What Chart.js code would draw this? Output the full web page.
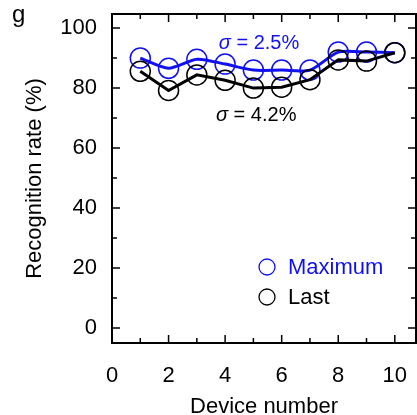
<!DOCTYPE html>
<html>
<head>
<meta charset="utf-8">
<script src="https://cdn.jsdelivr.net/npm/chart.js@4"></script>
<style>
  html, body { margin: 0; padding: 0; background: #fff; overflow: hidden; }
  canvas { display: block; }
</style>
</head>
<body>
<canvas id="grafica" width="417" height="415"></canvas>
<script>
// devices and recognition rates (%)
const dispositivos = [1, 2, 3, 4, 5, 6, 7, 8, 9, 10];
const maximo = [90, 86.6, 89.6, 88, 86, 86, 86, 92, 92, 91.8];
const ultimo = [85.6, 79.2, 84.4, 82.6, 80, 80.3, 82.8, 89.4, 89, 91.8];
const ticksX = [0, 2, 4, 6, 8, 10];
const ticksY = [0, 20, 40, 60, 80, 100];
const sigmaMax = '2.5%';
const sigmaUlt = '4.2%';

const AZUL = '#1010f0';
const NEGRO = '#000000';
const FUENTE = '"Liberation Sans", Arial, sans-serif';

function puntos(ys) {
  return dispositivos.map((x, i) => ({ x: x, y: ys[i] }));
}

// "σ = valor" con la sigma en cursiva, centrado en (cx, cy)
function sigma(ctx, texto, cx, cy, color) {
  ctx.fillStyle = color;
  ctx.font = 'italic 20px ' + FUENTE;
  const w1 = ctx.measureText('σ').width;
  ctx.font = '20px ' + FUENTE;
  const resto = ' = ' + texto;
  const w2 = ctx.measureText(resto).width;
  let x = cx - (w1 + w2) / 2;
  ctx.textAlign = 'left';
  ctx.font = 'italic 20px ' + FUENTE;
  ctx.fillText('σ', x, cy);
  ctx.font = '20px ' + FUENTE;
  ctx.fillText(resto, x + w1, cy);
}

// frame with inward ticks, x labels, sigma notes and legend
const marco = {
  id: 'marco',
  afterDatasetsDraw(chart) {
    const { ctx, chartArea: a, scales } = chart;
    const sx = scales.x, sy = scales.y;
    ctx.save();
    ctx.strokeStyle = '#000';
    ctx.lineWidth = 2;
    ctx.strokeRect(a.left, a.top, a.right - a.left, a.bottom - a.top);

    ctx.lineWidth = 1.5;
    ctx.beginPath();
    for (let v = 0; v <= 10; v++) {
      const px = sx.getPixelForValue(v);
      const len = v % 2 === 0 ? 8 : 5;
      ctx.moveTo(px, a.bottom); ctx.lineTo(px, a.bottom - len);
      ctx.moveTo(px, a.top); ctx.lineTo(px, a.top + len);
    }
    for (let v = 0; v <= 100; v += 10) {
      const py = sy.getPixelForValue(v);
      const len = v % 20 === 0 ? 8 : 5;
      ctx.moveTo(a.left, py); ctx.lineTo(a.left + len, py);
      ctx.moveTo(a.right, py); ctx.lineTo(a.right - len, py);
    }
    ctx.stroke();

    // x tick labels (drawn here so the last one may hang past the frame)
    ctx.fillStyle = '#000';
    ctx.font = '22px ' + FUENTE;
    ctx.textAlign = 'center';
    ctx.textBaseline = 'middle';
    ticksX.forEach(v => ctx.fillText(String(v), sx.getPixelForValue(v), a.bottom + 33));

    // sigma annotations
    sigma(ctx, sigmaMax, sx.getPixelForValue(5.2), sy.getPixelForValue(95), AZUL);
    sigma(ctx, sigmaUlt, sx.getPixelForValue(5.1), sy.getPixelForValue(71), NEGRO);

    // legend
    const items = chart.data.datasets;
    const lx = 267, ly0 = 267, paso = 30;
    ctx.textAlign = 'left';
    items.forEach((d, i) => {
      const ly = ly0 + i * paso;
      ctx.beginPath();
      ctx.arc(lx, ly, 8, 0, Math.PI * 2);
      ctx.strokeStyle = d.pointBorderColor;
      ctx.lineWidth = 1.3;
      ctx.stroke();
      ctx.fillStyle = d.pointBorderColor;
      ctx.font = '22px ' + FUENTE;
      ctx.fillText(d.label, lx + 21, ly + 1);
    });

    // panel letter
    ctx.fillStyle = '#000';
    ctx.font = '24px ' + FUENTE;
    ctx.textAlign = 'left';
    ctx.textBaseline = 'alphabetic';
    ctx.fillText('g', 12, 22);
    ctx.restore();
  }
};

const ctx = document.getElementById('grafica').getContext('2d');
new Chart(ctx, {
  type: 'line',
  data: {
    datasets: [
      {
        label: 'Maximum',
        data: puntos(maximo),
        borderColor: AZUL,
        borderWidth: 3,
        pointRadius: 10,
        pointBorderWidth: 1.5,
        pointBorderColor: AZUL,
        pointBackgroundColor: 'rgba(0,0,0,0)',
        tension: 0.25,
        order: 2
      },
      {
        label: 'Last',
        data: puntos(ultimo),
        borderColor: NEGRO,
        borderWidth: 3,
        pointRadius: 10,
        pointBorderWidth: 1.5,
        pointBorderColor: NEGRO,
        pointBackgroundColor: 'rgba(0,0,0,0)',
        tension: 0,
        order: 1
      }
    ]
  },
  options: {
    responsive: false,
    animation: false,
    layout: { autoPadding: false, padding: { top: 14, right: 1, left: 0, bottom: 0 } },
    plugins: { legend: { display: false }, tooltip: { enabled: false } },
    scales: {
      x: {
        type: 'linear',
        min: 0,
        max: 10.75,
        afterBuildTicks: s => { s.ticks = ticksX.map(v => ({ value: v })); },
        afterFit: s => { s.height = 72; s.paddingLeft = 0; s.paddingRight = 0; },
        grid: { display: false, drawTicks: false },
        border: { display: false },
        ticks: { display: false },
        title: { display: true, text: 'Device number', color: '#000', font: { family: FUENTE, size: 22 }, padding: { top: 0, bottom: -5 } }
      },
      y: {
        min: -5,
        max: 104.7,
        afterBuildTicks: s => { s.ticks = ticksY.map(v => ({ value: v })); },
        afterFit: s => { s.width = 112; s.paddingTop = 0; s.paddingBottom = 0; },
        grid: { display: false, drawTicks: false },
        border: { display: false },
        ticks: { color: '#000', font: { family: FUENTE, size: 22 }, padding: 15 },
        title: { display: true, text: 'Recognition rate (%)', color: '#000', font: { family: FUENTE, size: 22 }, padding: { top: 22, bottom: 0 } }
      }
    }
  },
  plugins: [marco]
});
</script>
</body>
</html>
